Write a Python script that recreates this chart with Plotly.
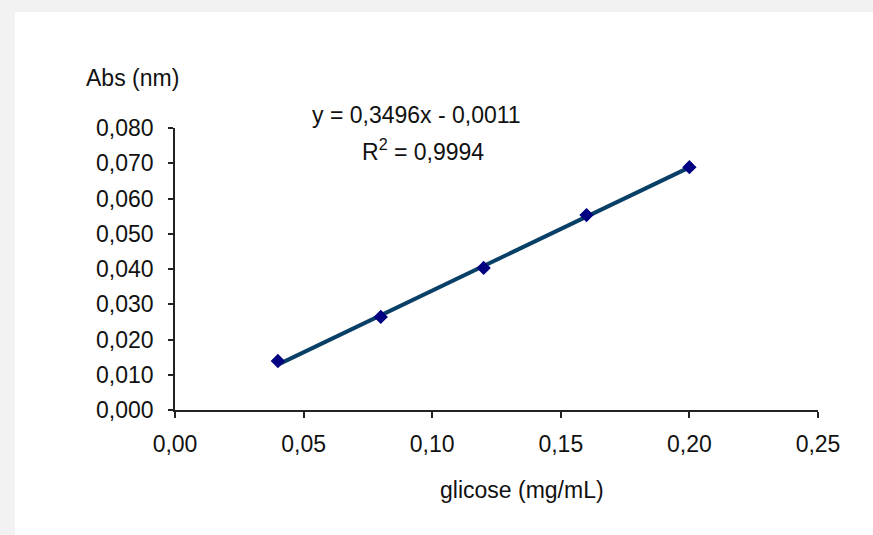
import plotly.graph_objects as go

# --------------------- Data
glicose = [0.04, 0.08, 0.12, 0.16, 0.20]
absorbancia = [0.0139, 0.0264, 0.0403, 0.0553, 0.0689]

# trendline
slope = 0.3496
intercept = -0.0011
r2 = 0.9994
trend_x = [glicose[0], glicose[-1]]
trend_y = [slope * v + intercept for v in trend_x]

x_ticks = [0.00, 0.05, 0.10, 0.15, 0.20, 0.25]
y_ticks = [0.000, 0.010, 0.020, 0.030, 0.040, 0.050, 0.060, 0.070, 0.080]

font_name = "Liberation Sans, Arial, sans-serif"
text_color = "#111111"
fsize = 23

# plot area in pixels (used to place the free texts)
pw, ph = 643, 282


def px_x(x):
    return (x - 175) / pw


def px_y(y):
    return (410 - y) / ph


fig = go.Figure()

# linear trendline
fig.add_trace(go.Scatter(x=trend_x, y=trend_y, mode="lines",
                         line=dict(color="#083f66", width=4),
                         hoverinfo="skip", showlegend=False))

# measured points
fig.add_trace(go.Scatter(x=glicose, y=absorbancia, mode="markers",
                         marker=dict(symbol="diamond", size=11, color="#000080"),
                         showlegend=False))

axis_common = dict(showgrid=False, zeroline=False, showline=True,
                   linecolor="#222222", linewidth=1.5, ticks="outside",
                   tickcolor="#222222", tickwidth=1.5,
                   tickfont=dict(family=font_name, size=fsize, color=text_color))

fig.update_xaxes(range=[0, 0.25], tickvals=x_ticks, tickformat=".2f",
                 ticklen=6, ticklabelstandoff=7, **axis_common)
fig.update_yaxes(range=[0, 0.08], tickvals=y_ticks, tickformat=".3f",
                 ticklen=5, ticklabelstandoff=10, **axis_common)

# white chart area inside the gray frame
fig.add_shape(type="rect", xref="paper", yref="paper",
              x0=px_x(15), x1=px_x(873), y0=px_y(535), y1=px_y(12),
              fillcolor="white", line=dict(width=0), layer="below")

fig.add_annotation(text="Abs (nm)", xref="paper", yref="paper",
                   x=px_x(84), y=px_y(78), xanchor="left", yanchor="middle",
                   showarrow=False, font=dict(family=font_name, size=fsize, color=text_color))
fig.add_annotation(text="glicose (mg/mL)", xref="paper", yref="paper",
                   x=px_x(522), y=px_y(490), xanchor="center", yanchor="middle",
                   showarrow=False, font=dict(family=font_name, size=fsize, color=text_color))

eq_text = ("y = " + f"{slope:.4f}".replace(".", ",") + "x - "
           + f"{abs(intercept):.4f}".replace(".", ","))
r2_text = "R<sup>2</sup> = " + f"{r2:.4f}".replace(".", ",")
fig.add_annotation(text=eq_text, xref="paper", yref="paper",
                   x=px_x(416), y=px_y(115), xanchor="center", yanchor="middle",
                   showarrow=False, font=dict(family=font_name, size=fsize, color=text_color))
fig.add_annotation(text=r2_text, xref="paper", yref="paper",
                   x=px_x(423), y=px_y(150), xanchor="center", yanchor="middle",
                   showarrow=False, font=dict(family=font_name, size=fsize, color=text_color))

fig.update_layout(width=873, height=535, separators=",.",
                  margin=dict(l=175, r=55, t=128, b=125),
                  paper_bgcolor="#f2f2f2", plot_bgcolor="rgba(0,0,0,0)")

fig.write_html("out.html", config={"displayModeBar": False},
               post_script="document.body.style.margin='0';"
                           "document.body.style.background='#f2f2f2';")
